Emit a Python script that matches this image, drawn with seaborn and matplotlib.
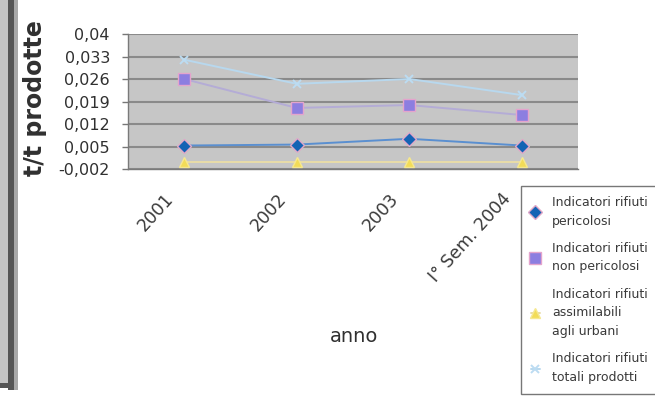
import matplotlib
matplotlib.use("Agg")
import matplotlib.pyplot as plt
import matplotlib.transforms as mtransforms
from matplotlib.patches import Rectangle
import seaborn as sns
import pandas as pd

# Indicatori (t di rifiuto per t di prodotto) per anno
anni = ["2001", "2002", "2003", "I° Sem. 2004"]
pericolosi = [0.0053, 0.0056, 0.0074, 0.0053]
non_pericolosi = [0.0260, 0.0170, 0.0179, 0.0148]
assimilabili = [0.0003, 0.0003, 0.0003, 0.0003]
totali = [0.0320, 0.0245, 0.0260, 0.0210]

serie = [
    "Indicatori rifiuti\npericolosi",
    "Indicatori rifiuti\nnon pericolosi",
    "Indicatori rifiuti\nassimilabili\nagli urbani",
    "Indicatori rifiuti\ntotali prodotti",
]

y_ticks = [-0.002, 0.005, 0.012, 0.019, 0.026, 0.033, 0.04]
y_tick_labels = ["-0,002", "0,005", "0,012", "0,019", "0,026", "0,033", "0,04"]

df = pd.DataFrame({
    "anno": anni * 4,
    "valore": pericolosi + non_pericolosi + assimilabili + totali,
    "serie": sum([[s] * len(anni) for s in serie], []),
})

# line colour, marker, face, edge, size
stili = {
    serie[0]: ("#5a8fd0", "D", "#1463b4", "#e0a8c8", 7),
    serie[1]: ("#b4acd6", "s", "#8c7ee0", "#e4a4cc", 8),
    serie[2]: ("#e8dca8", "^", "#f2dc58", "#f6e890", 7),
    serie[3]: ("#b8d8ee", "x", "#bcdcf2", "#bcdcf2", 6),
}

sns.set_theme(style="white")
plt.rcParams["font.family"] = ["DejaVu Sans"]

fig = plt.figure(figsize=(6.55, 4.03), dpi=100)
fig.patch.set_facecolor("white")
W, H = 655, 403
ax = fig.add_axes([128 / W, 1 - 169 / H, 450 / W, 135 / H])
ax.set_facecolor("#c6c6c6")

for nome in serie:
    col, mk, fc, ec, ms = stili[nome]
    sub = df[df["serie"] == nome]
    sns.lineplot(data=sub, x="anno", y="valore", ax=ax, color=col, lw=1.4,
                 marker=mk, markersize=ms, markerfacecolor=fc,
                 mec=ec, mew=1.0 if mk != "x" else 1.4, label=nome,
                 sort=False)

ax.set_xlim(-0.5, len(anni) - 0.5)
ax.set_ylim(-0.002, 0.04)
ax.set_yticks(y_ticks)
ax.set_yticklabels(y_tick_labels, fontsize=11.5, color="#303030")
ax.yaxis.grid(True, color="#8a8a8a", lw=1.5)
ax.set_axisbelow(True)
ax.tick_params(axis="y", length=4, width=1, color="#777777", pad=9, left=True)
ax.tick_params(axis="x", length=0, pad=0)

ax.set_xticks(range(len(anni)))
ax.set_xticklabels(anni, fontsize=12.5, color="#3a3a3a", rotation=48,
                   ha="right", va="top")
shift = mtransforms.ScaledTranslation(-0.07, -0.21, fig.dpi_scale_trans)
for lab in ax.get_xticklabels():
    lab.set_transform(lab.get_transform() + shift)

for side in ["top", "right"]:
    ax.spines[side].set_visible(False)
for side in ["left", "bottom"]:
    ax.spines[side].set_color("#7a7a7a")
    ax.spines[side].set_linewidth(1.0)

ax.set_xlabel("")
ax.set_ylabel("")
fig.text(354 / W, 1 - 337 / H, "anno", fontsize=14, color="#303030",
         ha="center", va="center")
fig.text(35 / W, 1 - 98 / H, "t/t prodotte", fontsize=17, fontweight="bold",
         color="#303030", rotation=90, ha="center", va="center")

leg = ax.legend(loc="upper left", bbox_to_anchor=(521 / W, 1 - 186 / H),
                bbox_transform=fig.transFigure, borderaxespad=0,
                fontsize=9, frameon=True, fancybox=False,
                handlelength=0.7, handletextpad=1.0, labelspacing=1.15,
                borderpad=0.8)
leg.get_frame().set_edgecolor("#555555")
leg.get_frame().set_linewidth(1.0)
for t in leg.get_texts():
    t.set_color("#3a3a3a")
    t.set_linespacing(1.55)

# page border on the left edge
fig.patches.append(Rectangle((0, 1 - 384 / H), 8 / W, 384 / H,
                             transform=fig.transFigure, facecolor="#c4c4c4",
                             edgecolor="none", zorder=0))
fig.patches.append(Rectangle((8 / W, 1 - 390 / H), 6 / W, 390 / H,
                             transform=fig.transFigure, facecolor="#555555",
                             edgecolor="none", zorder=0))
fig.patches.append(Rectangle((14 / W, 1 - 390 / H), 4 / W, 390 / H,
                             transform=fig.transFigure, facecolor="#a8a8a8",
                             edgecolor="none", zorder=0))
fig.patches.append(Rectangle((0, 1 - 388 / H), 14 / W, 5 / H,
                             transform=fig.transFigure, facecolor="#555555",
                             edgecolor="none", zorder=0))

fig.savefig("out.png", dpi=100)
